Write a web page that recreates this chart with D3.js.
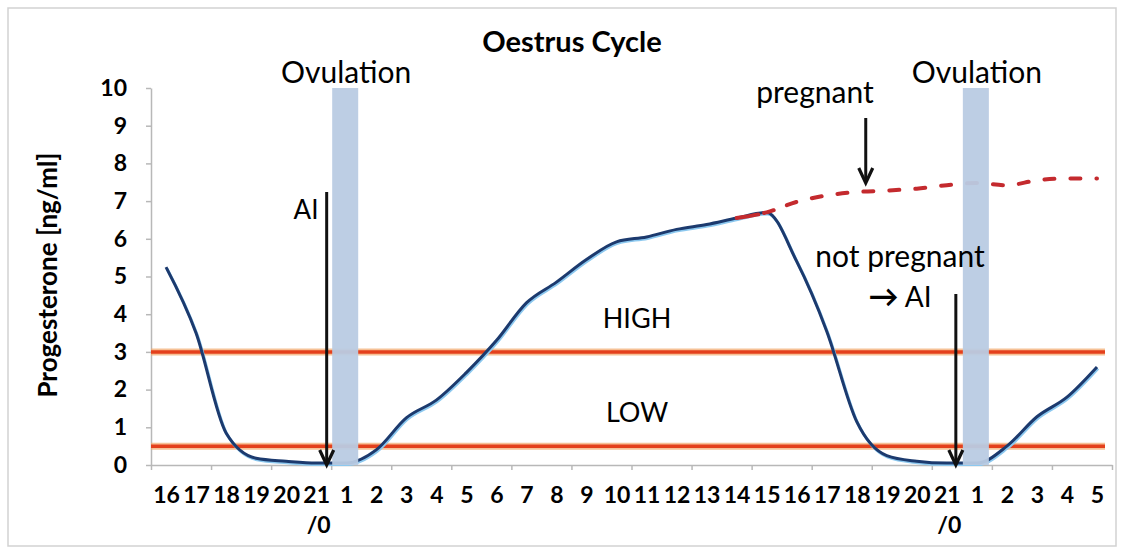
<!DOCTYPE html>
<html>
<head>
<meta charset="utf-8">
<title>Oestrus Cycle</title>
<style>
body {margin: 0; background: #fff;}
text {font-family: Lato, "Open Sans", sans-serif; fill: #000;}
.axis text {font-weight: bold; font-size: 23px; fill: #000;}
.axis path, .axis line {stroke: #b8b8b8; stroke-width: 1.5;}
</style>
</head>
<body>
<div id="chart"></div>
<script src="https://cdn.jsdelivr.net/npm/d3@7/dist/d3.min.js"></script>
<script>
// cycle days on the x axis, one point per day
var days = ["16","17","18","19","20","21/0","1","2","3","4","5","6","7","8","9","10",
	"11","12","13","14","15","16","17","18","19","20","21/0","1","2","3","4","5"];
var progesterone = [5.25,3.5,0.85,0.18,0.1,0.05,0.05,0.4,1.25,1.72,2.45,3.3,4.3,4.85,5.45,5.92,
	6.05,6.25,6.38,6.55,6.7,5.4,3.55,1.15,0.25,0.1,0.05,0.05,0.5,1.28,1.8,2.6];
// pregnant branch (dashed) starts at day 14
var pregnantDays = [19,20,21,22,23,24,25,26,27,28,29,30,31];
var pregnantValues = [6.55,6.7,6.98,7.15,7.24,7.28,7.33,7.42,7.48,7.42,7.55,7.6,7.6];
var thresholds = [3, 0.5];
var thresholdLabels = ["HIGH", "LOW"];
var ovulationDays = [6, 27];
var aiDays = [5, 26];
var yTicks = [0,1,2,3,4,5,6,7,8,9,10];

(function(d3) {
	var width = 1122;
	var height = 551;

	var svg = d3.select('#chart')
		.append('svg')
		.attr('width', width)
		.attr('height', height);

	// outer frame
	svg.append('rect')
		.attr('x', 8).attr('y', 8)
		.attr('width', 1108).attr('height', 538)
		.attr('fill', 'none')
		.attr('stroke', '#d2d2d2')
		.attr('stroke-width', 1.5);

	var x = d3.scaleLinear().domain([-0.5, days.length - 0.5]).range([151, 1112]);
	var y = d3.scaleLinear().domain([0, 10]).range([465, 88]);

	// y axis
	svg.append('g')
		.attr('class', 'axis')
		.attr('transform', 'translate(' + x(-0.5) + ',0)')
		.call(d3.axisLeft(y).tickValues(yTicks).tickSize(5).tickSizeOuter(0).tickPadding(19));

	// x axis: tick marks every two days at the boundaries
	var boundaries = d3.range(-0.5, days.length, 2);
	svg.append('g')
		.attr('class', 'axis')
		.attr('transform', 'translate(0,' + y(0) + ')')
		.call(d3.axisBottom(x).tickValues(boundaries).tickSize(5).tickSizeOuter(0).tickFormat(''));

	var xLabels = svg.append('g')
		.attr('class', 'axis')
		.attr('transform', 'translate(0,' + y(0) + ')')
		.call(d3.axisBottom(x).tickValues(d3.range(days.length)).tickSize(0).tickPadding(22)
			.tickFormat(function(i) { return days[i]; }));
	xLabels.select('.domain').remove();
	xLabels.selectAll('.tick text').each(function(i) {
		var parts = days[i].split('/');
		if (parts.length > 1) {
			var t = d3.select(this).text(parts[0]);
			t.append('tspan').attr('x', 2).attr('dy', '1.3em').text('/' + parts[1]);
		}
	});

	// threshold lines
	thresholds.forEach(function(v) {
		svg.append('line')
			.attr('x1', x(-0.5)).attr('x2', 1105)
			.attr('y1', y(v)).attr('y2', y(v))
			.attr('stroke', '#f3a86a').attr('stroke-width', 7).attr('opacity', 0.7);
		svg.append('line')
			.attr('x1', x(-0.5)).attr('x2', 1105)
			.attr('y1', y(v)).attr('y2', y(v))
			.attr('stroke', '#e4401c').attr('stroke-width', 3.5);
	});

	// progesterone curve
	var line = d3.line()
		.x(function(d, i) { return x(i); })
		.y(function(d) { return y(d); })
		.curve(d3.curveMonotoneX);

	svg.append('path')
		.datum(progesterone)
		.attr('d', line)
		.attr('transform', 'translate(1,1.5)')
		.attr('fill', 'none')
		.attr('stroke', '#8cc8ef')
		.attr('stroke-width', 3);
	svg.append('path')
		.datum(progesterone)
		.attr('d', line)
		.attr('fill', 'none')
		.attr('stroke', '#1c3a6e')
		.attr('stroke-width', 3);

	var pregLine = d3.line()
		.x(function(d, i) { return x(pregnantDays[i]); })
		.y(function(d) { return y(d); })
		.curve(d3.curveMonotoneX);

	svg.append('path')
		.datum(pregnantValues)
		.attr('d', pregLine)
		.attr('fill', 'none')
		.attr('stroke', '#c42a2e')
		.attr('stroke-width', 4)
		.attr('stroke-linecap', 'round')
		.attr('stroke-dasharray', '22,6,10,14,10,16,10,16,10,16,10,16,10,16,10,16,10,16,10,16,10,16,10,16,10,16,10,16,10,16');

	// ovulation bands
	ovulationDays.forEach(function(d) {
		svg.append('rect')
			.attr('x', x(d - 0.5) + 1)
			.attr('width', x(d + 0.4) - x(d - 0.5) - 1)
			.attr('y', y(10))
			.attr('height', y(0) - y(10))
			.attr('fill', '#b9cbe3')
			.attr('opacity', 0.95);
		svg.append('text')
			.attr('x', x(d))
			.attr('y', 83)
			.attr('text-anchor', 'middle')
			.style('font-size', '30px')
			.text('Ovulation');
	});

	function arrow(xp, y0, y1) {
		svg.append('line')
			.attr('x1', xp).attr('x2', xp)
			.attr('y1', y0).attr('y2', y1 - 3)
			.attr('stroke', '#111').attr('stroke-width', 3);
		svg.append('path')
			.attr('d', 'M' + (xp - 7) + ',' + (y1 - 15) + 'L' + xp + ',' + y1 + 'L' + (xp + 7) + ',' + (y1 - 15))
			.attr('fill', 'none')
			.attr('stroke', '#111')
			.attr('stroke-width', 3.2)
			.attr('stroke-linejoin', 'miter');
	}

	// AI arrows
	arrow(x(aiDays[0] + 0.35), 192, y(0));
	arrow(x(aiDays[1] + 0.3), 294, y(0));
	arrow(x(23.3), 118, 183);

	function label(txt, xp, yp, size, weight) {
		return svg.append('text')
			.attr('x', xp).attr('y', yp)
			.attr('text-anchor', 'middle')
			.style('font-size', size + 'px')
			.style('font-weight', weight || 'normal')
			.text(txt);
	}

	label('Oestrus Cycle', 572, 52, 29, 'bold');
	label('AI', 306, 219, 26);
	label('pregnant', 815, 103, 30);
	label('not pregnant', 900, 267, 30);
	var notPreg = label('', 900, 307, 28);
	notPreg.append('tspan').style('font-weight', 'bold').style('font-size', '30px').text('\u2192');
	notPreg.append('tspan').text(' AI');
	thresholds.forEach(function(v, i) {
		label(thresholdLabels[i], 637, y(v) - 24, 27);
	});

	svg.append('text')
		.attr('transform', 'translate(57,275) rotate(-90)')
		.attr('text-anchor', 'middle')
		.style('font-size', '26px')
		.style('font-weight', 'bold')
		.text('Progesterone [ng/ml]');
})(window.d3);
</script>
</body>
</html>
